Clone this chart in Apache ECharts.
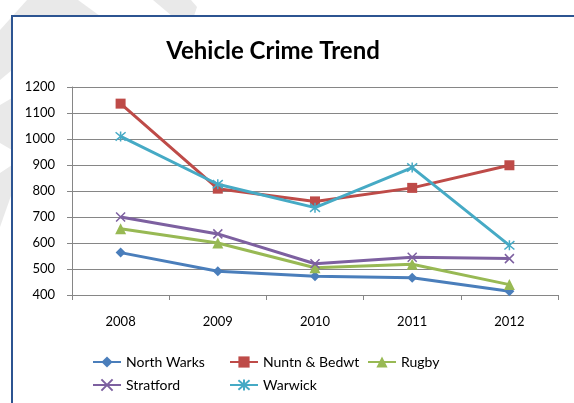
<!DOCTYPE html>
<html><head><meta charset="utf-8">
<script src="https://cdn.jsdelivr.net/npm/echarts@6/dist/echarts.min.js"></script>
<style>html,body{margin:0;padding:0;background:#fff}#c{width:574px;height:403px}</style>
</head><body><div id="c"></div>
<script>
const years = ['2008', '2009', '2010', '2011', '2012'];
const seriesNames = ['North Warks', 'Nuntn & Bedwt', 'Rugby', 'Stratford', 'Warwick'];
const northWarks = [563, 491, 472, 466, 414];
const nuntnBedwt = [1136, 809, 760, 812, 899];
const rugby = [655, 600, 505, 518, 440];
const stratford = [700, 635, 520, 545, 540];
const warwick = [1010, 826, 736, 890, 591];
const yMin = 400, yMax = 1200, yStep = 100;

const colors = ['#4A7EBB', '#BE4B48', '#98B954', '#7D60A0', '#46AAC5'];
const values = [northWarks, nuntnBedwt, rugby, stratford, warwick];
const symbols = [
  'diamond', 'rect', 'triangle',
  'path://M0,0L10,10M10,0L0,10',
  'path://M0,0L10,10M10,0L0,10M5,-1L5,11'
];
const symbolSizes = [10, 10, 11, 9, 10];
const strokeOnly = [false, false, false, true, true];
const FONT = 'Lato';

const chart = echarts.init(document.getElementById('c'), null, {renderer: 'canvas'});

const legendPos = [[92, 355], [229, 355], [367, 355], [92, 378], [229, 378]];

const gray = '#e9e9e9';
const option = {
  animation: false,
  backgroundColor: '#fff',
  title: {
    text: 'Vehicle Crime Trend',
    left: 268, top: 34, textAlign: 'center',
    textStyle: {fontFamily: FONT, fontWeight: 'bold', fontSize: 24, color: '#000'}
  },
  graphic: [
    {type: 'polygon', shape: {points: [[27,0],[78,0],[100,16],[12,16],[12,70],[0,80],[0,30]]}, style: {fill: gray}, silent: true},
    {type: 'polygon', shape: {points: [[0,105],[12,98],[12,150],[0,143]]}, style: {fill: gray}, silent: true},
    {type: 'polygon', shape: {points: [[0,173],[12,165],[12,193],[0,227]]}, style: {fill: gray}, silent: true},
    {type: 'polygon', shape: {points: [[153,0],[191,0],[197,7],[194,16],[172,16]]}, style: {fill: gray}, silent: true},
    {type: 'rect', shape: {x: 12, y: 16, width: 620, height: 420}, style: {fill: 'none', stroke: '#2C5491', lineWidth: 2}, silent: true}
  ],
  grid: {left: 72, right: 16, top: 87, bottom: 108},
  legend: seriesNames.map((n, i) => ({
    data: [n],
    left: legendPos[i][0], top: legendPos[i][1],
    padding: 0,
    itemWidth: 28, itemHeight: 14, itemGap: 0,
    textStyle: {fontFamily: FONT, fontSize: 14, color: '#000'}
  })),
  xAxis: {
    type: 'category', data: years, boundaryGap: true,
    axisLine: {lineStyle: {color: '#868686', width: 1}},
    axisTick: {show: true, length: 5, lineStyle: {color: '#868686'}},
    axisLabel: {margin: 20, fontFamily: FONT, fontSize: 13, color: '#000'}
  },
  yAxis: {
    type: 'value', min: yMin, max: yMax, interval: yStep,
    axisLine: {show: true, lineStyle: {color: '#868686', width: 1}},
    axisTick: {show: true, length: 5, lineStyle: {color: '#868686'}},
    axisLabel: {margin: 17, fontFamily: FONT, fontSize: 13, color: '#000', formatter: v => String(v)},
    splitLine: {lineStyle: {color: '#868686', width: 1}}
  },
  series: seriesNames.map((n, i) => ({
    name: n, type: 'line', data: values[i],
    symbol: symbols[i], symbolSize: symbolSizes[i],
    lineStyle: {color: colors[i], width: 3},
    itemStyle: strokeOnly[i]
      ? {color: colors[i], borderColor: colors[i], borderWidth: 1.5}
      : {color: colors[i], borderWidth: 0},
    z: 2 + i
  }))
};
chart.setOption(option);
</script></body></html>
